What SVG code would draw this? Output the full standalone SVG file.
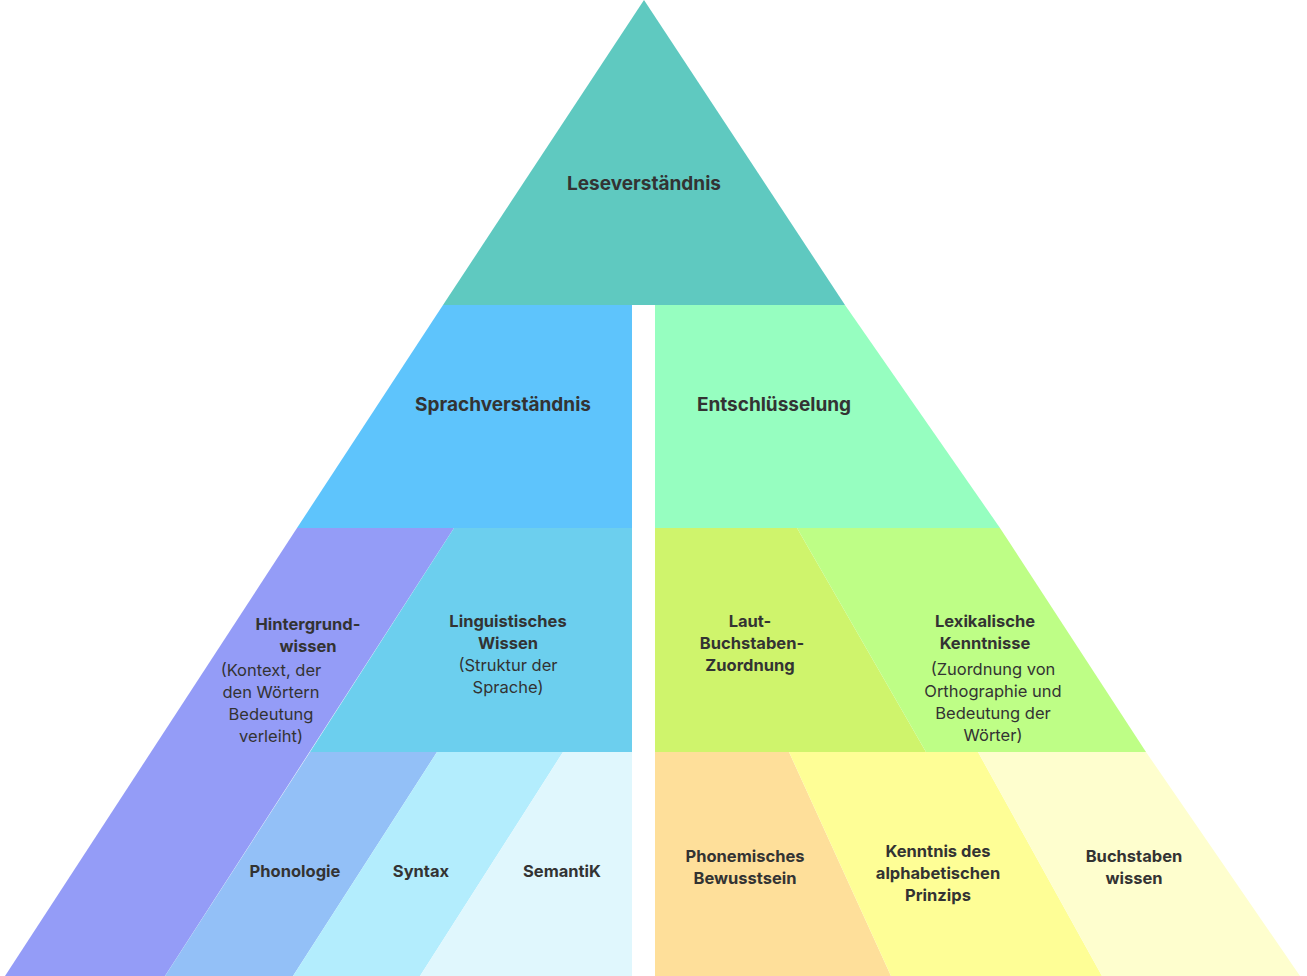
<svg xmlns="http://www.w3.org/2000/svg" width="1307" height="976" viewBox="0 0 1307 976">
<style>
text{font-family:Inter,"Open Sans",sans-serif;fill:#333;text-anchor:middle}
.h{font-weight:700;font-size:19px}
.b{font-weight:700;font-size:16.5px}
.n{font-size:16.5px}
</style>
<rect width="1307" height="976" fill="#fff"/>
<g id="leseverstaendnis"><polygon points="644,0 845,305 443,305" fill="#5FC9C0"/><text class="h" x="644" y="190">Leseverständnis</text></g>
<g id="sprachverstaendnis"><polygon points="443,305 632,305 632,528 297,528" fill="#5EC4FC"/><text class="h" x="503" y="411">Sprachverständnis</text></g>
<g id="entschluesselung"><polygon points="655,305 845,305 1000,528 655,528" fill="#96FEC0"/><text class="h" x="774" y="411">Entschlüsselung</text></g>
<g id="hintergrundwissen"><polygon points="297,528 454,528 165,976 5,976" fill="#949CF7"/>
<text class="b" x="308" y="630">Hintergrund-</text><text class="b" x="308" y="652">wissen</text>
<text class="n" x="271" y="676">(Kontext, der</text><text class="n" x="271" y="698">den Wörtern</text><text class="n" x="271" y="720">Bedeutung</text><text class="n" x="271" y="742">verleiht)</text></g>
<g id="linguistisches"><polygon points="454,528 632,528 632,752 310,752" fill="#6CCFEE"/>
<text class="b" x="508" y="627">Linguistisches</text><text class="b" x="508" y="649">Wissen</text>
<text class="n" x="508" y="671">(Struktur der</text><text class="n" x="508" y="693">Sprache)</text></g>
<g id="phonologie"><polygon points="310,752 437,752 293,976 165,976" fill="#93C0F7"/><text class="b" x="295" y="877">Phonologie</text></g>
<g id="syntax"><polygon points="437,752 563,752 420,976 293,976" fill="#B3EDFD"/><text class="b" x="421" y="877">Syntax</text></g>
<g id="semantik"><polygon points="563,752 632,752 632,976 420,976" fill="#E0F7FD"/><text class="b" x="562" y="877">SemantiK</text></g>
<g id="laut"><polygon points="655,528 797,528 926,752 655,752" fill="#CFF46C"/>
<text class="b" x="750" y="627">Laut-</text><text class="b" x="752" y="649">Buchstaben-</text><text class="b" x="750" y="671">Zuordnung</text></g>
<g id="lexikalisch"><polygon points="797,528 1000,528 1146,752 926,752" fill="#BEFE86"/>
<text class="b" x="985" y="627">Lexikalische</text><text class="b" x="985" y="649">Kenntnisse</text>
<text class="n" x="993" y="675">(Zuordnung von</text><text class="n" x="993" y="697">Orthographie und</text><text class="n" x="993" y="719">Bedeutung der</text><text class="n" x="993" y="741">Wörter)</text></g>
<g id="phonemisch"><polygon points="655,752 789,752 891,976 655,976" fill="#FEDF9A"/>
<text class="b" x="745" y="862">Phonemisches</text><text class="b" x="745" y="884">Bewusstsein</text></g>
<g id="kenntnis"><polygon points="789,752 978,752 1102,976 891,976" fill="#FEFE96"/>
<text class="b" x="938" y="857">Kenntnis des</text><text class="b" x="938" y="879">alphabetischen</text><text class="b" x="938" y="901">Prinzips</text></g>
<g id="buchstaben"><polygon points="978,752 1146,752 1300,976 1102,976" fill="#FEFECE"/>
<text class="b" x="1134" y="862">Buchstaben</text><text class="b" x="1134" y="884">wissen</text></g>
<g id="connectors"/>
</svg>
